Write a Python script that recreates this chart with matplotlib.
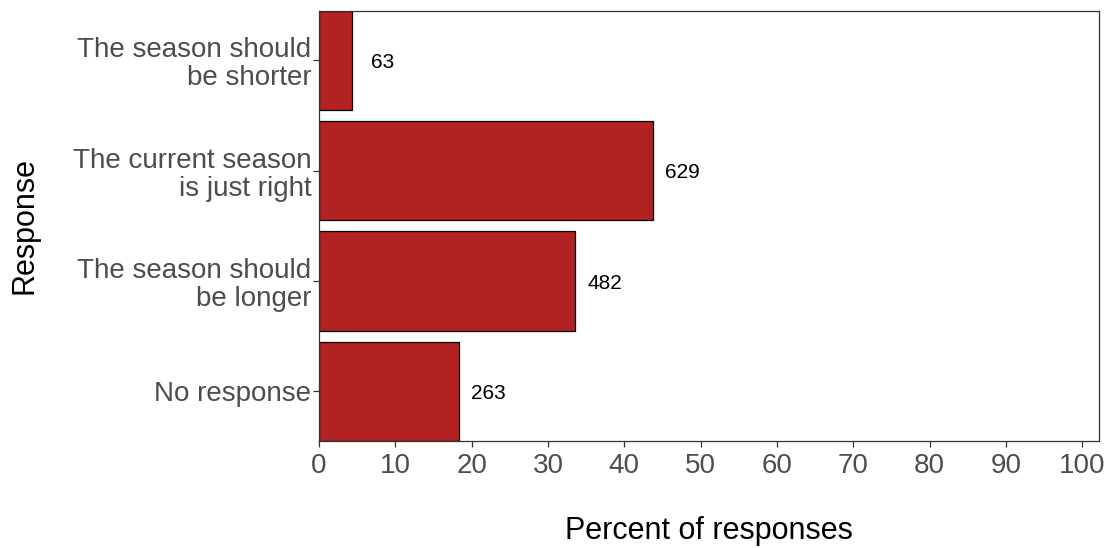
import matplotlib.pyplot as plt

# data
categories = ["The season should\nbe shorter",
              "The current season\nis just right",
              "The season should\nbe longer",
              "No response"]
counts = [63, 629, 482, 263]
total = sum(counts)
percents = [100.0 * c / total for c in counts]
x_ticks = [0, 10, 20, 30, 40, 50, 60, 70, 80, 90, 100]

plt.rcParams['font.family'] = ['Liberation Sans', 'DejaVu Sans']

fig = plt.figure(figsize=(11.06, 5.48), dpi=100)
ax = fig.add_axes([319 / 1106, 1 - 441 / 548, (1099 - 319) / 1106, (441 - 10.7) / 548])

# top category first, like the reference
ypos = list(range(len(categories), 0, -1))
ax.barh(ypos, percents, height=0.9, color='#B22222', edgecolor='black', linewidth=0.9)

for y, p, c in zip(ypos, percents, counts):
    ax.text(p + 3.9, y - 0.02, str(c), ha='center', va='center', fontsize=15, color='black')

ax.set_xlim(0, 102.2)
ax.set_ylim(0.55, len(categories) + 0.45)
ax.set_xticks(x_ticks)
ax.set_yticks(ypos)
ax.set_yticklabels(categories, linespacing=1.1)

ax.tick_params(axis='both', colors='#333333', labelcolor='#4D4D4D', length=4.5, width=0.9)
ax.tick_params(axis='x', labelsize=20, pad=4)
ax.tick_params(axis='y', labelsize=20, pad=1)

for s in ax.spines.values():
    s.set_color('#333333')
    s.set_linewidth(0.9)

ax.set_xlabel("Percent of responses", fontsize=22, labelpad=27)
ax.set_ylabel("Response", fontsize=22, labelpad=24)

fig.savefig("out.png", dpi=100)
